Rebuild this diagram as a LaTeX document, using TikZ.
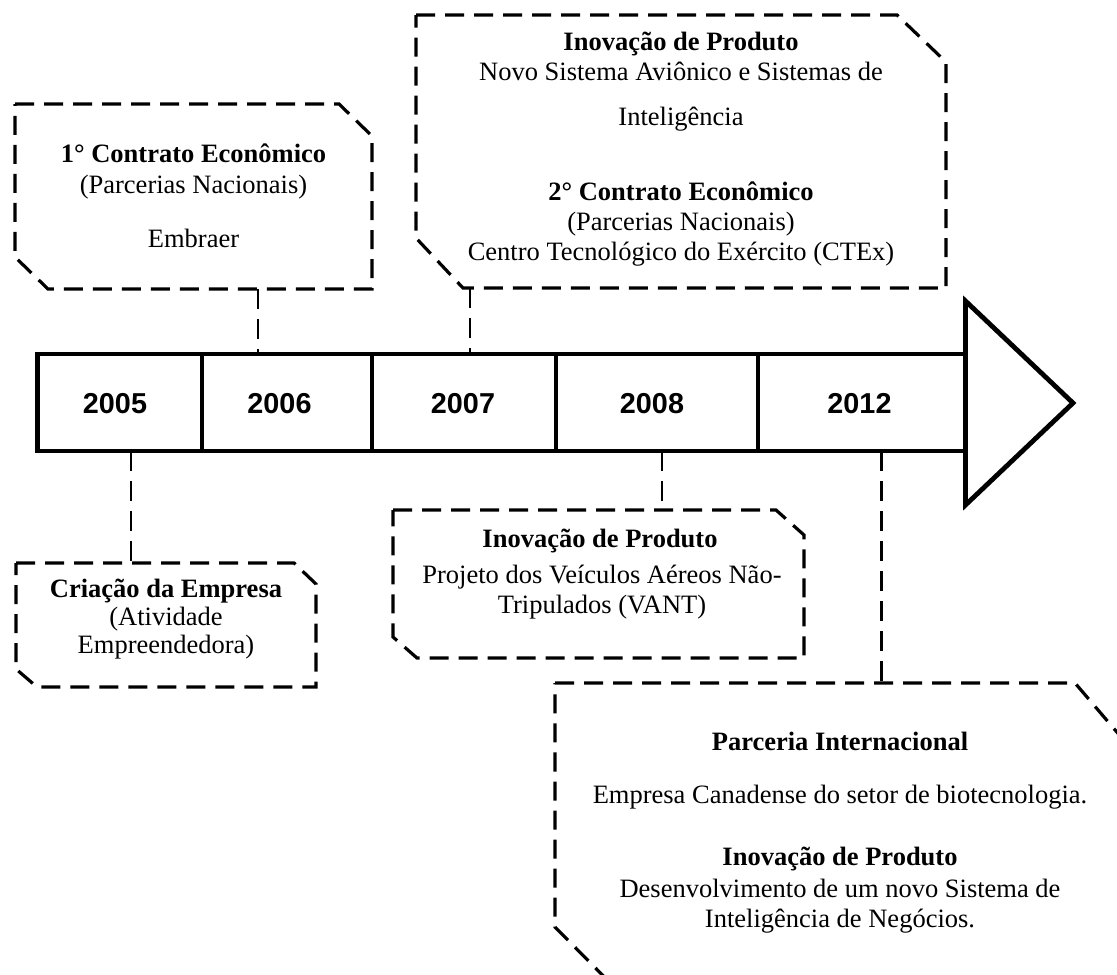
\documentclass[tikz,border=0pt]{standalone}
\usepackage{fontspec}
\setmainfont{Liberation Serif}
\newfontfamily\yearfont{Liberation Sans}
\begin{document}
\begin{tikzpicture}[x=1pt,y=-1pt,
  boxline/.style={line width=3.2pt, dash pattern=on 19pt off 10pt, line join=miter},
  link/.style={line width=2.2pt, dash pattern=on 20pt off 10pt},
  txt/.style={anchor=base, inner sep=0pt, font=\fontsize{26.5}{30}\selectfont},
  ttl/.style={anchor=base, inner sep=0pt, font=\fontsize{26.5}{30}\selectfont\bfseries},
  yearlbl/.style={anchor=center, inner sep=0pt, font=\yearfont\fontsize{28.8}{32}\selectfont\bfseries},
  barline/.style={line width=4.8pt, line join=miter},
  divline/.style={line width=4pt}]
\useasboundingbox (0,0) rectangle (1117,975);

% anchor points on the time bar and on the boxes
\coordinate (bar2005) at (131,451);
\coordinate (bar2006) at (258,352);
\coordinate (bar2007) at (470,352);
\coordinate (bar2008) at (662,451);
\coordinate (bar2012) at (881.5,451);
\coordinate (boxAbottom) at (258,289);
\coordinate (boxBbottom) at (470,288);
\coordinate (boxCtop) at (131,563);
\coordinate (boxDtop) at (662,510);
\coordinate (boxEtop) at (881.5,683);

% connectors
\draw[link] (boxAbottom) -- (bar2006);
\draw[link] (boxBbottom) -- (bar2007);
\draw[link] (bar2005) -- (boxCtop);
\draw[link] (bar2008) -- (boxDtop);
\draw[link] (bar2012) -- (boxEtop);

% event boxes: rectangles with cut top-right and bottom-left corners
\draw[boxline] (15,104) -- (339,104) -- (372,136) -- (372,289) -- (48,289) -- (15,257) -- cycle;
\draw[boxline] (416,15) -- (897,15) -- (946,62) -- (946,288) -- (463,288) -- (416,238) -- cycle;
\draw[boxline] (16,563) -- (294,563) -- (316,584) -- (316,687) -- (37,687) -- (16,669) -- cycle;
\draw[boxline] (393,510) -- (776,510) -- (804,535) -- (804,658) -- (417,658) -- (393,637) -- cycle;
\begin{scope}
  \clip (0,0) rectangle (1117,975);
  \draw[boxline] (555,683) -- (1075,683) -- (1145,765) -- (1145,1010) -- (637,1010) -- (555,927) -- cycle;
\end{scope}

% time bar
\draw[barline] (37.5,354) rectangle (965.5,451);
\draw[divline] (201.7,354) -- (201.7,451);
\draw[divline] (372,354) -- (372,451);
\draw[divline] (555.5,354) -- (555.5,451);
\draw[divline] (758,354) -- (758,451);
\draw[barline, fill=white] (965.5,301) -- (1073,403) -- (965.5,505) -- cycle;

\node[yearlbl] (y2005) at (115,404) {2005};
\node[yearlbl] (y2006) at (279.5,404) {2006};
\node[yearlbl] (y2007) at (463,404) {2007};
\node[yearlbl] (y2008) at (652,404) {2008};
\node[yearlbl] (y2012) at (859.5,404) {2012};

% texts of the first contract box
\node[ttl] (a1) at (193.5,162) {1° Contrato Econômico};
\node[txt] (a2) at (193.5,193) {(Parcerias Nacionais)};
\node[txt] (a3) at (193.5,247) {Embraer};

% texts of the 2007 box
\node[ttl] (b1) at (681,50) {Inovação de Produto};
\node[txt] (b2) at (681,80) {Novo Sistema Aviônico e Sistemas de};
\node[txt] (b3) at (681,125) {Inteligência};
\node[ttl] (b4) at (681,200) {2° Contrato Econômico};
\node[txt] (b5) at (681,230) {(Parcerias Nacionais)};
\node[txt] (b6) at (681,260) {Centro Tecnológico do Exército (CTEx)};

% texts of the founding box
\node[ttl] (c1) at (166,597) {Criação da Empresa};
\node[txt] (c2) at (166,625) {(Atividade};
\node[txt] (c3) at (166,653) {Empreendedora)};

% texts of the 2008 box
\node[ttl] (d1) at (600,547) {Inovação de Produto};
\node[txt] (d2) at (602,583) {Projeto dos Veículos Aéreos Não-};
\node[txt] (d3) at (602,613) {Tripulados (VANT)};

% texts of the 2012 box
\node[ttl] (e1) at (840,750) {Parceria Internacional};
\node[txt] (e2) at (840,803) {Empresa Canadense do setor de biotecnologia.};
\node[ttl] (e3) at (840,865) {Inovação de Produto};
\node[txt] (e4) at (840,897) {Desenvolvimento de um novo Sistema de};
\node[txt] (e5) at (840,927) {Inteligência de Negócios.};
\end{tikzpicture}
\end{document}
